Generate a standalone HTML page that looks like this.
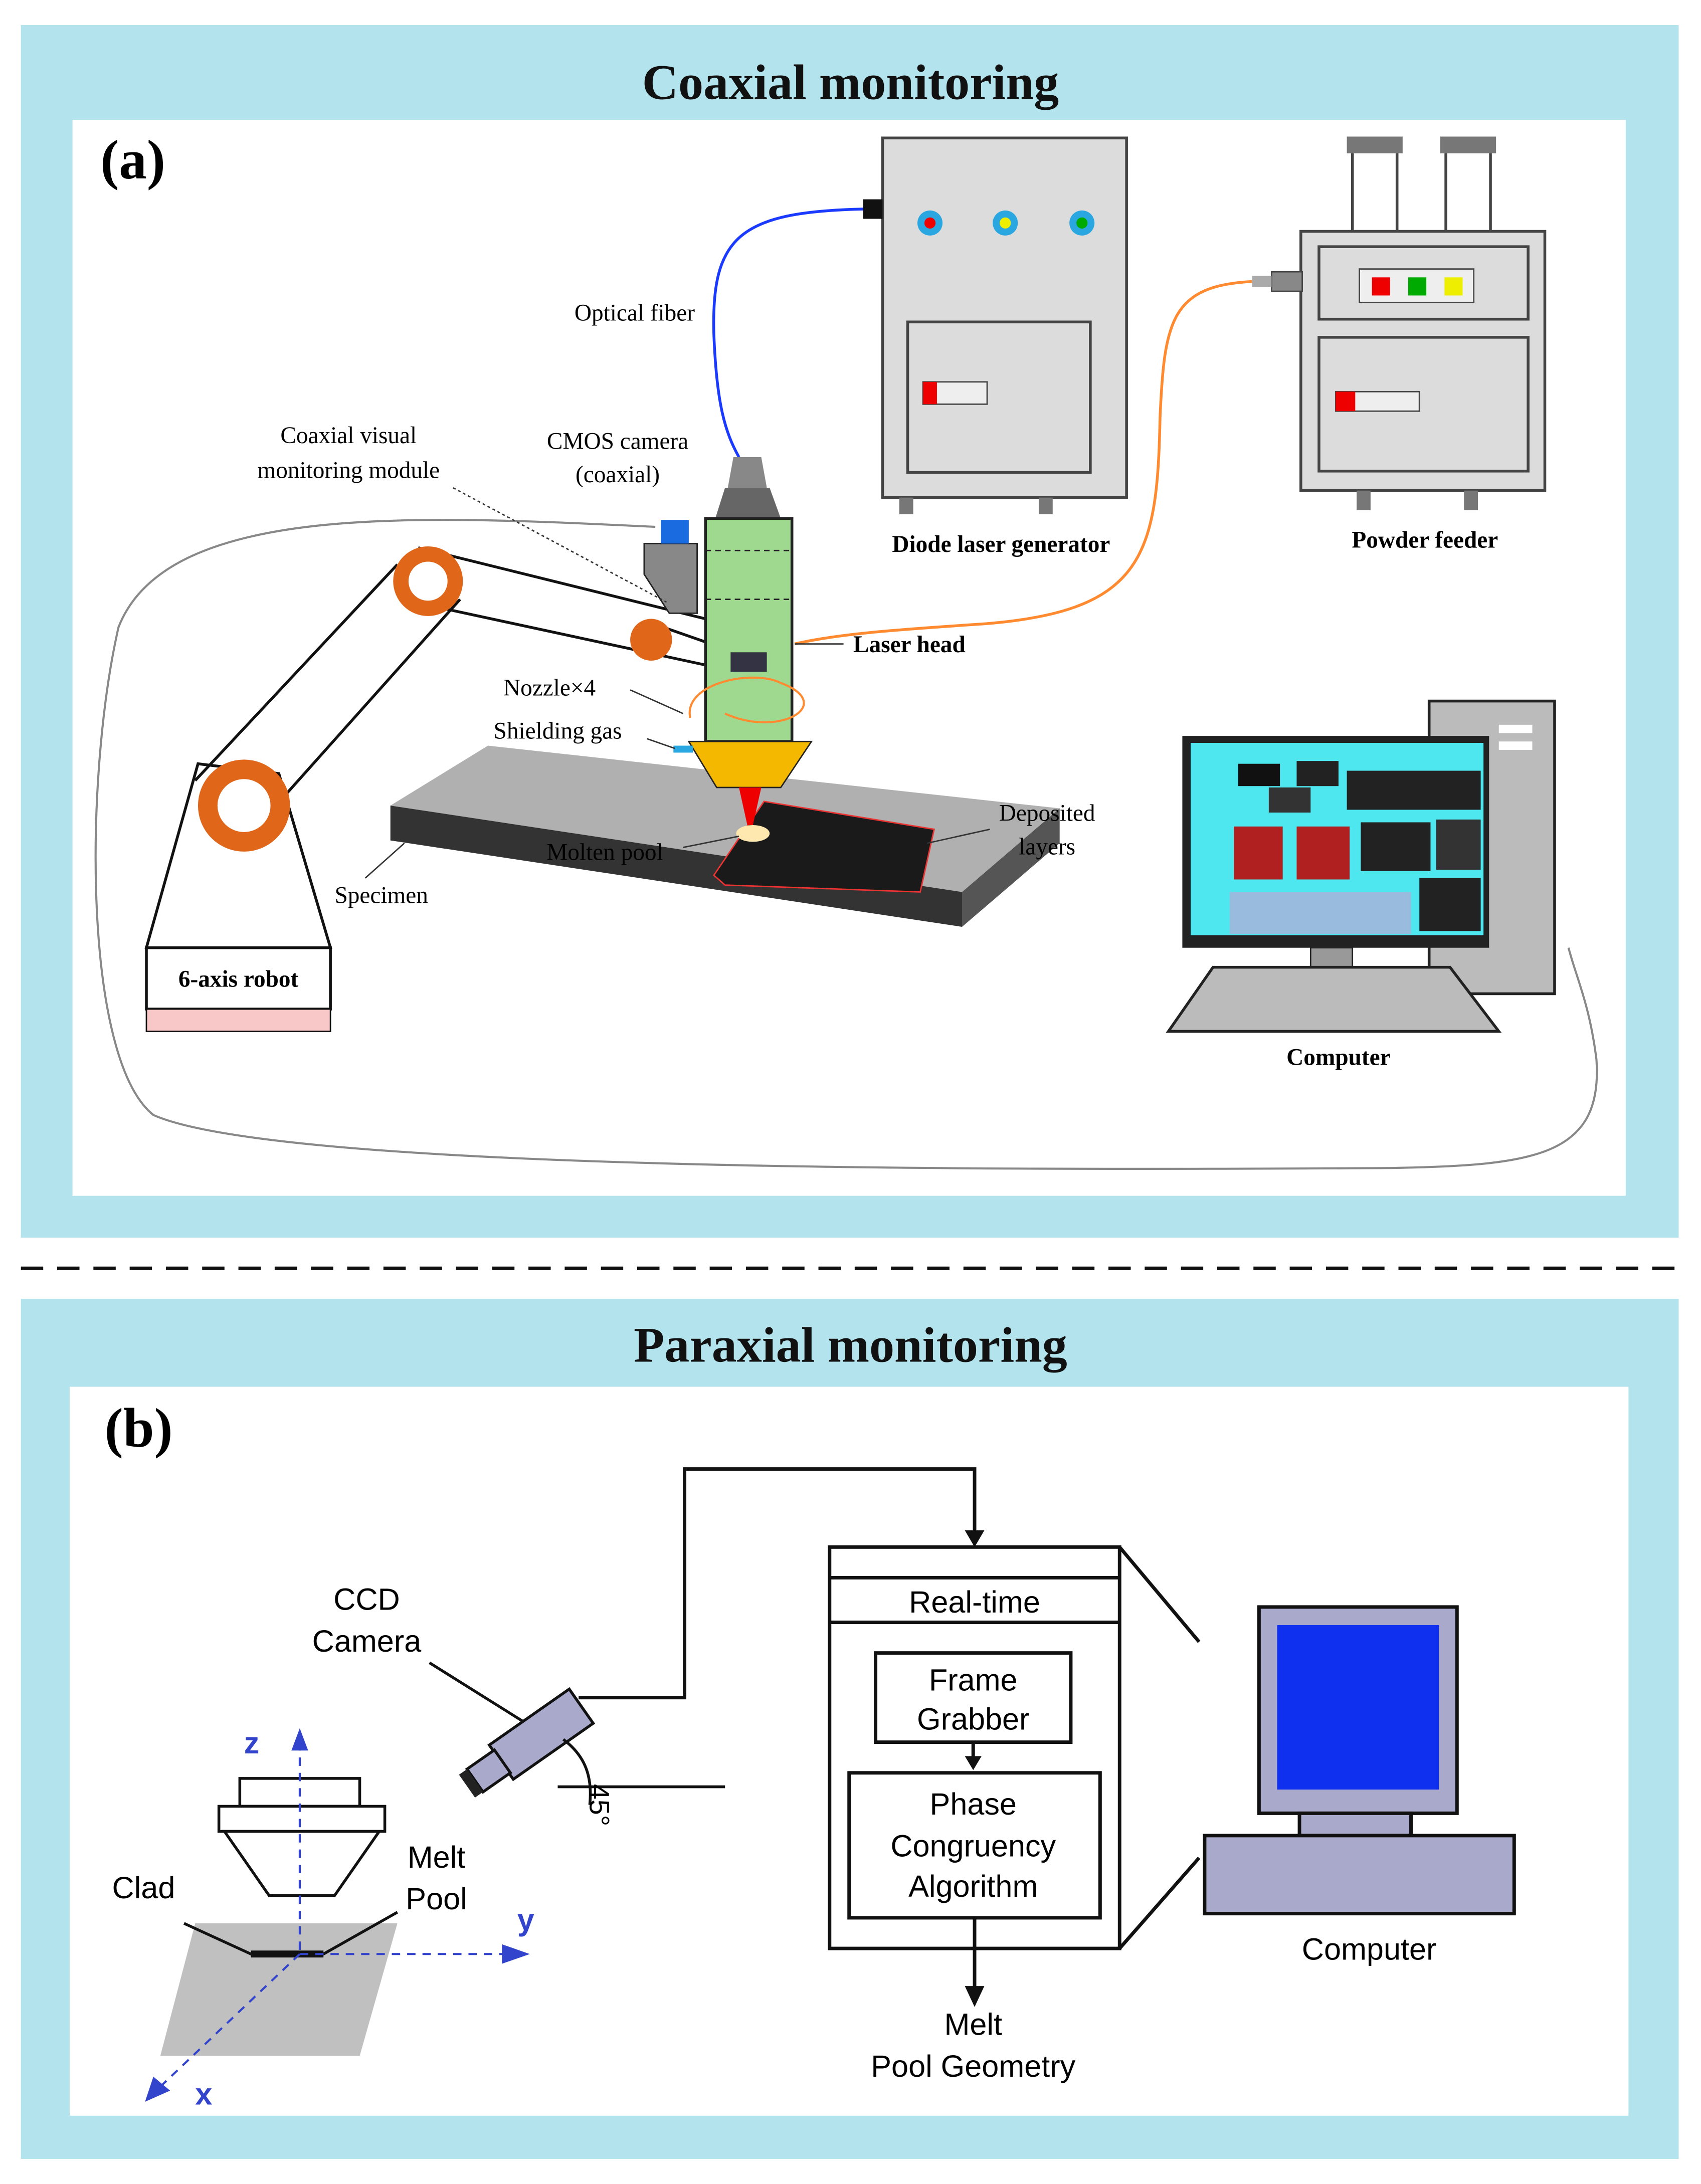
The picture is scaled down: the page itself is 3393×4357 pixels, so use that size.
<!DOCTYPE html>
<html><head><meta charset="utf-8"><style>
html,body{margin:0;padding:0;background:#fff}
svg{display:block}
.s{font-family:"Liberation Serif",serif}
.a{font-family:"Liberation Sans",sans-serif}
</style></head><body>
<svg width="3393" height="4357" viewBox="0 0 1220 1567" preserveAspectRatio="none" xmlns="http://www.w3.org/2000/svg">
<rect width="1220" height="1567" fill="#fff"/>
<rect x="15" y="18" width="1189" height="870" fill="#b3e3ec"/>
<rect x="15" y="932" width="1189" height="617" fill="#b3e3ec"/>
<line x1="15" y1="910" x2="1205" y2="910" stroke="#111" stroke-width="2.5" stroke-dasharray="16,10"/>
<text x="610" y="71" class="s" font-size="36" font-weight="bold" text-anchor="middle" fill="#111">Coaxial monitoring</text>
<text x="610" y="977" class="s" font-size="36" font-weight="bold" text-anchor="middle" fill="#111">Paraxial monitoring</text>
<rect x="52" y="86" width="1114" height="772" fill="#fff"/>
<rect x="50" y="995" width="1118" height="523" fill="#fff"/>
<text x="72" y="128" class="s" font-size="40" font-weight="bold">(a)</text>
<text x="75" y="1038" class="s" font-size="40" font-weight="bold">(b)</text>

<!-- cable loop -->
<path d="M470,378 C300,370 120,360 85,450 C60,560 60,760 110,800 C200,840 700,840 1000,838 C1100,836 1150,830 1145,760 C1140,720 1130,700 1125,680" fill="none" stroke="#888" stroke-width="1.5"/>
<!-- diode laser -->
<rect x="633" y="99" width="175" height="258" fill="#dcdcdc" stroke="#444" stroke-width="2"/>
<rect x="651" y="231" width="131" height="108" fill="#dcdcdc" stroke="#444" stroke-width="2"/>
<rect x="662" y="274" width="46" height="16" fill="#eee" stroke="#444"/><rect x="662" y="274" width="10" height="16" fill="#e00"/>
<circle cx="667" cy="160" r="9" fill="#2aa7e0"/><circle cx="667" cy="160" r="4" fill="#e00"/>
<circle cx="721" cy="160" r="9" fill="#2aa7e0"/><circle cx="721" cy="160" r="4" fill="#ee0"/>
<circle cx="776" cy="160" r="9" fill="#2aa7e0"/><circle cx="776" cy="160" r="4" fill="#0a0"/>
<rect x="645" y="357" width="10" height="12" fill="#777"/><rect x="745" y="357" width="10" height="12" fill="#777"/>
<rect x="619" y="143" width="14" height="14" fill="#111"/>
<text x="718" y="396" class="s" font-size="17" font-weight="bold" text-anchor="middle">Diode laser generator</text>
<!-- powder feeder -->
<rect x="966" y="98" width="40" height="12" fill="#777"/><rect x="1033" y="98" width="40" height="12" fill="#777"/>
<line x1="970" y1="110" x2="970" y2="166" stroke="#444" stroke-width="2"/><line x1="1002" y1="110" x2="1002" y2="166" stroke="#444" stroke-width="2"/>
<line x1="1037" y1="110" x2="1037" y2="166" stroke="#444" stroke-width="2"/><line x1="1069" y1="110" x2="1069" y2="166" stroke="#444" stroke-width="2"/>
<rect x="933" y="166" width="175" height="186" fill="#dcdcdc" stroke="#444" stroke-width="2"/>
<rect x="946" y="177" width="150" height="52" fill="#dcdcdc" stroke="#444" stroke-width="2"/>
<rect x="946" y="242" width="150" height="96" fill="#dcdcdc" stroke="#444" stroke-width="2"/>
<rect x="975" y="193" width="82" height="24" fill="#eee" stroke="#444"/>
<rect x="984" y="199" width="13" height="13" fill="#e00"/><rect x="1010" y="199" width="13" height="13" fill="#0a0"/><rect x="1036" y="199" width="13" height="13" fill="#ee0"/>
<rect x="958" y="281" width="60" height="14" fill="#eee" stroke="#444"/><rect x="958" y="281" width="14" height="14" fill="#e00"/>
<rect x="973" y="352" width="10" height="14" fill="#777"/><rect x="1050" y="352" width="10" height="14" fill="#777"/>
<rect x="912" y="195" width="22" height="14" fill="#888" stroke="#444"/><rect x="898" y="198" width="14" height="8" fill="#aaa"/>
<text x="1022" y="393" class="s" font-size="17" font-weight="bold" text-anchor="middle">Powder feeder</text>
<!-- fibers -->
<path d="M619,150 C530,152 510,170 512,240 C514,290 520,310 530,328" fill="none" stroke="#1a3aff" stroke-width="2"/>
<path d="M898,202 C840,205 835,230 832,300 C830,400 820,440 700,448 C640,452 600,455 570,462" fill="none" stroke="#ff8a30" stroke-width="2"/>
<text x="412" y="230" class="s" font-size="17">Optical fiber</text>
<!-- robot -->
<path d="M142,548 L105,680 L237,680 L200,555 Z" fill="#fff" stroke="#111" stroke-width="2"/>
<line x1="140" y1="560" x2="285" y2="405" stroke="#111" stroke-width="2"/><line x1="205" y1="570" x2="330" y2="430" stroke="#111" stroke-width="2"/>
<line x1="300" y1="393" x2="510" y2="445" stroke="#111" stroke-width="2"/><line x1="320" y1="437" x2="510" y2="478" stroke="#111" stroke-width="2"/>
<line x1="467" y1="447" x2="510" y2="462" stroke="#111" stroke-width="2"/>
<circle cx="175" cy="578" r="33" fill="#e0661a"/><circle cx="175" cy="578" r="19" fill="#fff"/>
<circle cx="307" cy="417" r="25" fill="#e0661a"/><circle cx="307" cy="417" r="14" fill="#fff"/>
<circle cx="467" cy="459" r="15" fill="#e0661a"/>
<rect x="105" y="680" width="132" height="44" fill="#fff" stroke="#111" stroke-width="2"/>
<rect x="105" y="724" width="132" height="16" fill="#f8c8c8" stroke="#111" stroke-width="1"/>
<text x="171" y="708" class="s" font-size="17" font-weight="bold" text-anchor="middle">6-axis robot</text>
<!-- specimen -->
<polygon points="280,578 350,535 760,580 690,640" fill="#b0b0b0"/>
<polygon points="280,578 690,640 690,665 280,603" fill="#333"/>
<polygon points="690,640 760,580 760,605 690,665" fill="#555"/>
<polygon points="512,628 548,575 670,595 660,640 520,635" fill="#1a1a1a" stroke="#e33" stroke-width="1"/>
<ellipse cx="540" cy="598" rx="12" ry="6" fill="#ffe8b0"/>
<text x="240" y="648" class="s" font-size="17">Specimen</text>
<line x1="262" y1="630" x2="290" y2="605" stroke="#333"/>
<text x="392" y="617" class="s" font-size="17">Molten pool</text>
<line x1="490" y1="608" x2="530" y2="600" stroke="#333"/>
<text x="751" y="589" class="s" font-size="17" text-anchor="middle">Deposited</text>
<text x="751" y="613" class="s" font-size="17" text-anchor="middle">layers</text>
<line x1="710" y1="595" x2="665" y2="605" stroke="#333"/>
<!-- laser head -->
<polygon points="520,350 552,350 560,372 513,372" fill="#666"/>
<polygon points="526,328 546,328 550,350 522,350" fill="#888"/>
<rect x="506" y="372" width="62" height="160" fill="#9fd88f" stroke="#222" stroke-width="2"/>
<line x1="506" y1="395" x2="568" y2="395" stroke="#222" stroke-dasharray="4,3"/>
<line x1="506" y1="430" x2="568" y2="430" stroke="#222" stroke-dasharray="4,3"/>
<rect x="524" y="468" width="26" height="14" fill="#334"/>
<polygon points="494,532 582,532 560,565 514,565" fill="#f5b800" stroke="#222"/>
<polygon points="530,565 546,565 540,592 536,592" fill="#e00"/>
<rect x="483" y="535" width="14" height="5" fill="#2aa7e0"/>
<polygon points="462,390 500,390 500,440 480,440 462,412" fill="#888" stroke="#222"/>
<rect x="474" y="373" width="20" height="17" fill="#1a6ae0"/>
<text x="443" y="322" class="s" font-size="17" text-anchor="middle">CMOS camera</text>
<text x="443" y="346" class="s" font-size="17" text-anchor="middle">(coaxial)</text>
<text x="250" y="318" class="s" font-size="17" text-anchor="middle">Coaxial visual</text>
<text x="250" y="343" class="s" font-size="17" text-anchor="middle">monitoring module</text>
<line x1="325" y1="350" x2="478" y2="432" stroke="#333" stroke-dasharray="2,2"/>
<text x="612" y="468" class="s" font-size="17" font-weight="bold">Laser head</text>
<line x1="605" y1="462" x2="570" y2="462" stroke="#333"/>
<text x="361" y="499" class="s" font-size="17">Nozzle×4</text>
<line x1="452" y1="495" x2="490" y2="512" stroke="#333"/>
<text x="354" y="530" class="s" font-size="17">Shielding gas</text>
<line x1="464" y1="530" x2="484" y2="537" stroke="#333"/>
<path d="M495,515 C490,490 540,480 560,490 C600,505 560,530 520,512" fill="none" stroke="#ff8a30" stroke-width="1.5"/>
<!-- computer (a) -->
<rect x="1025" y="503" width="90" height="210" fill="#bbb" stroke="#222" stroke-width="2"/>
<rect x="1075" y="520" width="24" height="6" fill="#fff"/><rect x="1075" y="532" width="24" height="6" fill="#fff"/>
<rect x="848" y="528" width="220" height="152" fill="#222"/>
<rect x="854" y="533" width="210" height="138" fill="#4ee6ef"/>
<rect x="888" y="548" width="30" height="16" fill="#111"/><rect x="930" y="546" width="30" height="18" fill="#222"/>
<rect x="910" y="565" width="30" height="18" fill="#333"/>
<rect x="966" y="553" width="96" height="28" fill="#222"/>
<rect x="885" y="593" width="35" height="38" fill="#b02020"/><rect x="930" y="593" width="38" height="38" fill="#b02020"/>
<rect x="976" y="590" width="50" height="35" fill="#222"/><rect x="1030" y="588" width="32" height="36" fill="#333"/>
<rect x="1018" y="630" width="44" height="38" fill="#222"/>
<rect x="882" y="640" width="130" height="30" fill="#9bd"/>
<rect x="940" y="680" width="30" height="14" fill="#999" stroke="#222"/>
<polygon points="870,694 1040,694 1075,740 838,740" fill="#bbb" stroke="#222" stroke-width="2"/>
<text x="960" y="764" class="s" font-size="17" font-weight="bold" text-anchor="middle">Computer</text>

<!-- (b) -->
<polyline points="415,1218 491,1218 491,1054 699,1054 699,1102" fill="none" stroke="#111" stroke-width="2.5"/>
<polygon points="692,1098 706,1098 699,1110" fill="#111"/>
<rect x="595" y="1110" width="208" height="288" fill="#fff" stroke="#111" stroke-width="2.5"/>
<line x1="595" y1="1132" x2="803" y2="1132" stroke="#111" stroke-width="2.5"/>
<line x1="595" y1="1164" x2="803" y2="1164" stroke="#111" stroke-width="2.5"/>
<text x="699" y="1157" class="a" font-size="22" text-anchor="middle">Real-time</text>
<rect x="628" y="1186" width="140" height="64" fill="#fff" stroke="#111" stroke-width="2.5"/>
<text x="698" y="1213" class="a" font-size="22" text-anchor="middle">Frame</text>
<text x="698" y="1241" class="a" font-size="22" text-anchor="middle">Grabber</text>
<line x1="698" y1="1250" x2="698" y2="1266" stroke="#111" stroke-width="2.5"/>
<polygon points="692,1260 704,1260 698,1270" fill="#111"/>
<rect x="609" y="1272" width="180" height="104" fill="#fff" stroke="#111" stroke-width="2.5"/>
<text x="698" y="1302" class="a" font-size="22" text-anchor="middle">Phase</text>
<text x="698" y="1332" class="a" font-size="22" text-anchor="middle">Congruency</text>
<text x="698" y="1361" class="a" font-size="22" text-anchor="middle">Algorithm</text>
<line x1="699" y1="1376" x2="699" y2="1430" stroke="#111" stroke-width="2.5"/>
<polygon points="692,1425 706,1425 699,1440" fill="#111"/>
<text x="698" y="1460" class="a" font-size="22" text-anchor="middle">Melt</text>
<text x="698" y="1490" class="a" font-size="22" text-anchor="middle">Pool Geometry</text>
<line x1="803" y1="1110" x2="860" y2="1178" stroke="#111" stroke-width="2.5"/>
<line x1="803" y1="1398" x2="860" y2="1333" stroke="#111" stroke-width="2.5"/>
<rect x="903" y="1153" width="142" height="148" fill="#a9a9cc" stroke="#111" stroke-width="2.5"/>
<rect x="916" y="1166" width="116" height="118" fill="#1030f0"/>
<rect x="932" y="1301" width="80" height="16" fill="#a9a9cc" stroke="#111" stroke-width="2.5"/>
<rect x="864" y="1317" width="222" height="56" fill="#a9a9cc" stroke="#111" stroke-width="2.5"/>
<text x="982" y="1406" class="a" font-size="22" text-anchor="middle">Computer</text>
<!-- camera -->
<text x="263" y="1155" class="a" font-size="22" text-anchor="middle">CCD</text>
<text x="263" y="1185" class="a" font-size="22" text-anchor="middle">Camera</text>
<line x1="308" y1="1193" x2="375" y2="1235" stroke="#111" stroke-width="2"/>
<g transform="rotate(-35 380 1250)">
<rect x="355" y="1235" width="70" height="30" fill="#a9a9cc" stroke="#111" stroke-width="2"/>
<rect x="332" y="1240" width="24" height="20" fill="#a9a9cc" stroke="#111" stroke-width="2"/>
<rect x="325" y="1240" width="7" height="20" fill="#222"/>
</g>
<line x1="400" y1="1282" x2="520" y2="1282" stroke="#111" stroke-width="2"/>
<path d="M404,1248 C420,1260 425,1275 423,1295" fill="none" stroke="#111" stroke-width="2"/>
<text x="0" y="0" class="a" font-size="20" transform="translate(423,1280) rotate(90)">45°</text>
<!-- clad -->
<polygon points="140,1380 285,1380 258,1475 115,1475" fill="#c0c0c0"/>
<rect x="172" y="1276" width="86" height="20" fill="#fff" stroke="#111" stroke-width="2"/>
<rect x="157" y="1296" width="119" height="18" fill="#fff" stroke="#111" stroke-width="2"/>
<polygon points="161,1314 272,1314 240,1360 193,1360" fill="#fff" stroke="#111" stroke-width="2"/>
<polyline points="132,1380 180,1402 232,1402 285,1372" fill="none" stroke="#111" stroke-width="2"/>
<line x1="180" y1="1402" x2="232" y2="1402" stroke="#111" stroke-width="5"/>
<line x1="215" y1="1250" x2="215" y2="1400" stroke="#3344cc" stroke-width="1.5" stroke-dasharray="6,5"/>
<polygon points="209,1256 221,1256 215,1240" fill="#3344cc"/>
<line x1="215" y1="1402" x2="365" y2="1402" stroke="#3344cc" stroke-width="1.5" stroke-dasharray="6,5"/>
<polygon points="360,1395 380,1402 360,1409" fill="#3344cc"/>
<line x1="215" y1="1402" x2="112" y2="1500" stroke="#3344cc" stroke-width="1.5" stroke-dasharray="6,5"/>
<polygon points="104,1508 110,1490 122,1500" fill="#3344cc"/>
<text x="175" y="1258" class="a" font-size="22" font-weight="bold" fill="#3344cc">z</text>
<text x="371" y="1385" class="a" font-size="22" font-weight="bold" fill="#3344cc">y</text>
<text x="140" y="1510" class="a" font-size="22" font-weight="bold" fill="#3344cc">x</text>
<text x="103" y="1362" class="a" font-size="22" text-anchor="middle">Clad</text>
<text x="313" y="1340" class="a" font-size="22" text-anchor="middle">Melt</text>
<text x="313" y="1370" class="a" font-size="22" text-anchor="middle">Pool</text>
</svg>
</body></html>
